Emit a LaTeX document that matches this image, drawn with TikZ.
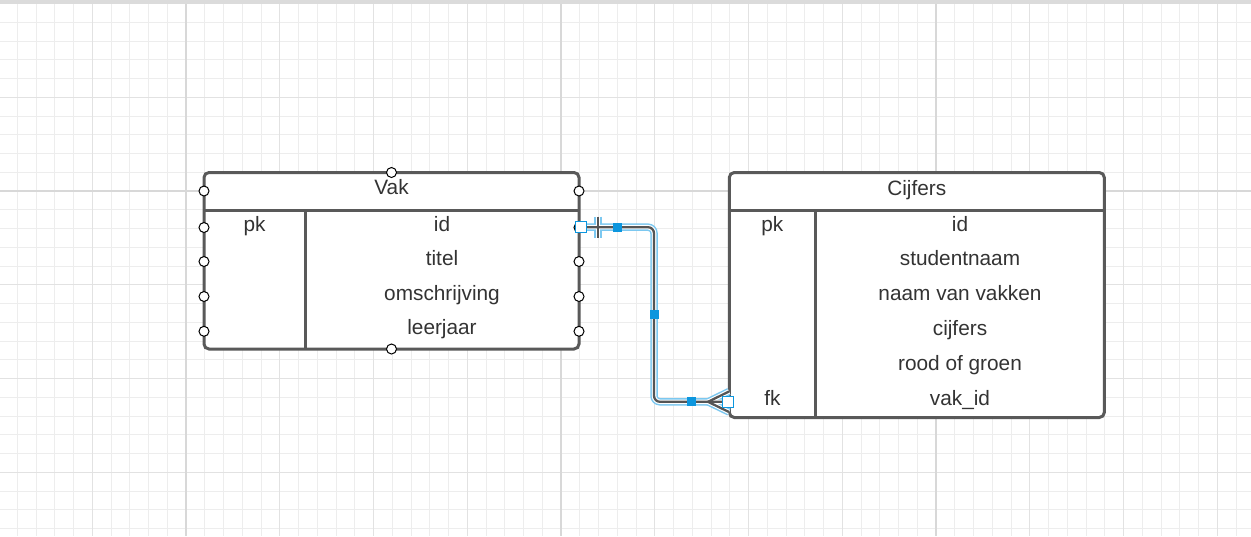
\documentclass[tikz,border=0pt]{standalone}
\usepackage{fontspec}
\setmainfont{Liberation Sans}
\usetikzlibrary{calc}
\definecolor{frame}{HTML}{595959}
\definecolor{txt}{HTML}{333333}
\definecolor{gminor}{HTML}{EDEDED}
\definecolor{gmed}{HTML}{E2E2E2}
\definecolor{gmajor}{HTML}{D8D8D8}
\definecolor{selblue}{HTML}{0C96DE}
\definecolor{halo}{HTML}{7CC8F0}
\definecolor{linkgray}{HTML}{555555}
\begin{document}
\begin{tikzpicture}[x=1pt,y=-1pt,
  tbl/.style={draw=frame, line width=3pt, rounded corners=5pt, fill=white, inner sep=0pt, outer sep=0pt, anchor=north west},
  divider/.style={draw=frame, line width=3pt},
  cell/.style={text=txt, font=\fontsize{20.8}{24}\selectfont, anchor=base, inner sep=0pt},
  port/.style={circle, draw=black, fill=white, line width=1pt, minimum size=10pt, inner sep=0pt},
  hollowsq/.style={rectangle, draw=selblue, fill=white, line width=1.2pt, minimum size=11pt, inner sep=0pt},
  fillsq/.style={rectangle, fill=selblue, minimum size=9pt, inner sep=0pt},
  halolayer/.style={draw=halo, line width=7.5pt},
  whitelayer/.style={draw=white, line width=4.5pt},
  linklayer/.style={draw=linkgray, line width=2.3pt}
]
\useasboundingbox (0,0) rectangle (1251,536);
\fill[white] (0,0) rectangle (1251,536);
% grid
\foreach \k in {0,...,67} \draw[gminor, line width=1pt] ({-1.5+18.75*\k},0) -- ++(0,536);
\foreach \k in {0,...,28} \draw[gminor, line width=1pt] (0,{3.5+18.75*\k}) -- ++(1251,0);
\foreach \k in {0,...,13} \draw[gmed, line width=1pt] ({-1.5+93.75*\k},0) -- ++(0,536);
\foreach \k in {0,...,5} \draw[gmed, line width=1pt] (0,{3.5+93.75*\k}) -- ++(1251,0);
\foreach \k in {0,1,2} \draw[gmajor, line width=1.5pt] ({186+375*\k},0) -- ++(0,536);
\draw[gmajor, line width=1.5pt] (0,191) -- ++(1251,0);
\fill[gray!28] (0,0) rectangle (1251,3.5);

% Vak table
\node[tbl, minimum width=375pt, minimum height=176.5pt] (vak) at (204,172.5) {};
\draw[divider] (204,210) -- (579,210);
\draw[divider] (305,210) -- (305,349);
\node[cell] (vakt) at (391.5,194.5) {Vak};
\node[cell] (vakpk) at (254.5,231) {pk};
\node[cell] (vakid) at (442,231) {id};
\node[cell] (vaktitel) at (442,265.5) {titel};
\node[cell] (vakoms) at (442,300) {omschrijving};
\node[cell] (vakleer) at (442,334.5) {leerjaar};

% Cijfers table
\node[tbl, minimum width=375pt, minimum height=245pt] (cij) at (729.3,172.5) {};
\draw[divider] (729.3,210) -- (1104.3,210);
\draw[divider] (815.5,210) -- (815.5,417.5);
\node[cell] (cijt) at (916.8,195) {Cijfers};
\node[cell] (cijpk) at (772.4,231) {pk};
\node[cell] (cijid) at (960,231) {id};
\node[cell] (cijst) at (960,265.8) {studentnaam};
\node[cell] (cijnv) at (960,300.6) {naam van vakken};
\node[cell] (cijcf) at (960,335.4) {cijfers};
\node[cell] (cijrg) at (960,370.2) {rood of groen};
\node[cell] (cijfk) at (772.4,405) {fk};
\node[cell] (cijvk) at (960,405) {vak\_id};

% connection ports on Vak
\foreach \y [count=\i] in {191,227.5,261.5,296.5,331.3} {
  \node[port] (pl\i) at (204,\y) {};
  \node[port] (pr\i) at (579,\y) {};
}
\node[port] (ptop) at (391.5,172.5) {};
\node[port] (pbot) at (391.5,349) {};

% connector
\coordinate (cstart) at (579,227.2);
\coordinate (cend) at (729,401.8);
\coordinate (cmid) at ($(cstart)!0.5!(cend)$);
\coordinate (barT) at (598,216.5);
\coordinate (barB) at (598,237.5);
\coordinate (crowA) at (708,401.8);
\coordinate (crowT) at (729,391.5);
\coordinate (crowB) at (729,412);
\foreach \lay in {halolayer,whitelayer,linklayer} {
  \draw[\lay, rounded corners=6pt] (cstart) -| (cmid) |- (cend);
  \draw[\lay] (barT) -- (barB);
  \draw[\lay] (crowT) -- (crowA) -- (crowB);
}
\node[hollowsq] (hs1) at (580.7,226.8) {};
\node[fillsq] (fs1) at (617.7,227.2) {};
\node[fillsq] (fs2) at (cmid) {};
\node[fillsq] (fs3) at (691,401.8) {};
\node[hollowsq] (hs2) at (728,401.8) {};
\end{tikzpicture}
\end{document}
